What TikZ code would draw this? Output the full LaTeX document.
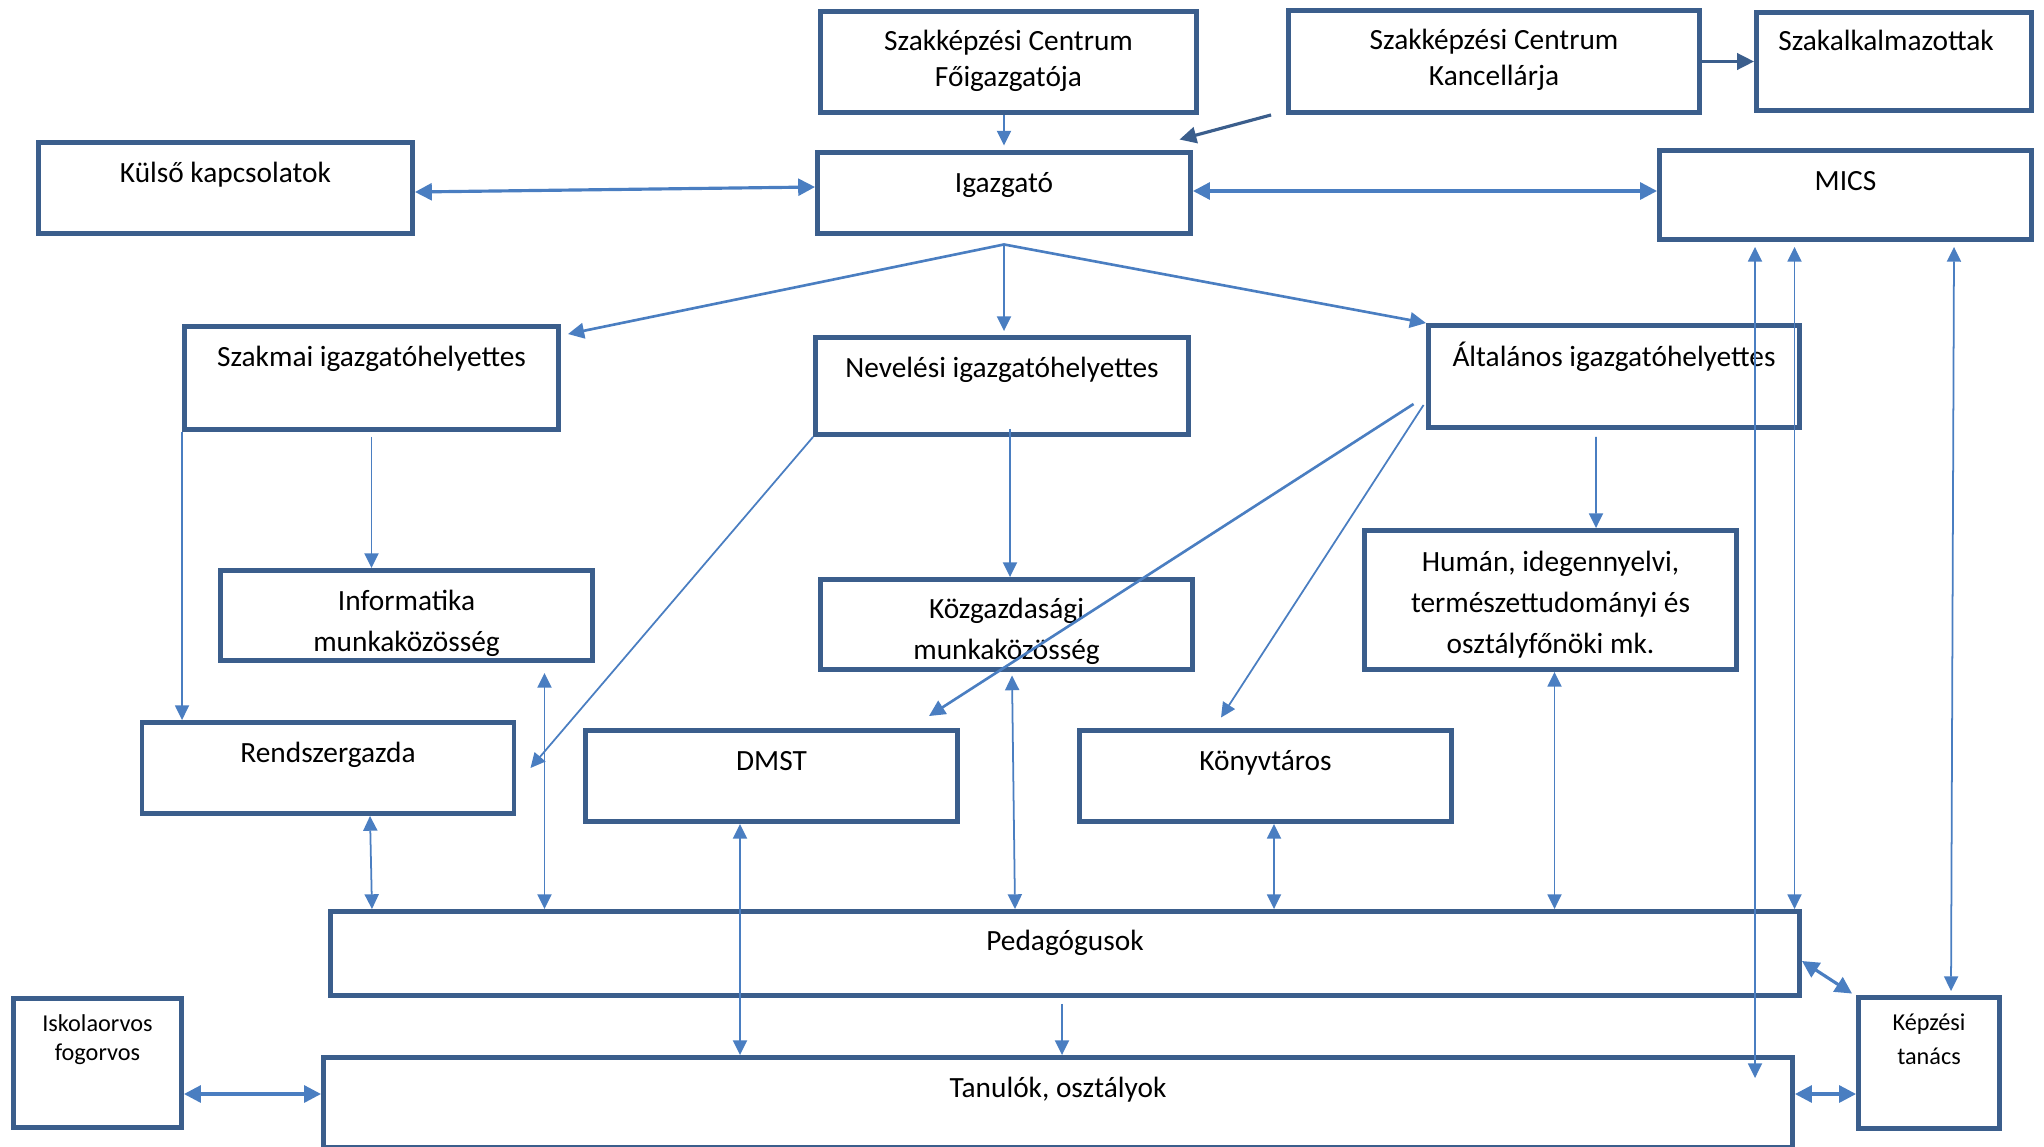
\documentclass[tikz,border=0pt]{standalone}
\usepackage{fontspec}
\setmainfont{Carlito}
\usetikzlibrary{arrows.meta}
\definecolor{boxblue}{RGB}{59,94,140}
\definecolor{lineblue}{RGB}{74,126,193}
\begin{document}
\begin{tikzpicture}[
    every node/.style={font=\fontsize{8.35}{11.6}\selectfont},
    box/.style={draw=boxblue, line width=1.4pt, minimum width=3.72cm, minimum height=0.9cm, inner sep=0pt},
    txt/.style={anchor=base, align=center, inner sep=0pt},
    tight/.style={font=\fontsize{8.35}{10}\selectfont},
    arr/.style={draw=lineblue, line width=0.5pt, >={Triangle[length=4.2pt, width=4pt]}},
    mid/.style={draw=lineblue, line width=0.75pt, >={Triangle[length=4.6pt, width=4.4pt]}},
    heavy/.style={draw=lineblue, line width=0.9pt, >={Triangle[length=4.8pt, width=4.8pt]}},
    darr/.style={draw=boxblue, line width=0.9pt, >={Triangle[length=4.8pt, width=4.6pt]}}
]
    \useasboundingbox (0,0) rectangle (20.44,-11.46);

    % boxes
    \node[box, minimum width=3.76cm, minimum height=1.01cm] (foig) at (10.085,-0.62) {};
    \node[box, minimum width=4.11cm, minimum height=1.02cm] (kanc) at (14.94,-0.615) {};
    \node[box, minimum width=2.75cm, minimum height=0.98cm] (szakalk) at (18.94,-0.615) {};
    \node[box, minimum width=3.74cm, minimum height=0.91cm] (kulso) at (2.255,-1.88) {};
    \node[box, minimum width=3.73cm, minimum height=0.81cm] (igazgato) at (10.04,-1.93) {};
    \node[box, minimum height=0.89cm] (mics) at (18.455,-1.95) {};
    \node[box, minimum width=3.74cm, minimum height=1.03cm] (szakmai) at (3.715,-3.78) {};
    \node[box, minimum width=3.73cm, minimum height=0.97cm] (neveles) at (10.02,-3.86) {};
    \node[box, minimum width=3.71cm, minimum height=1.02cm] (altalanos) at (16.14,-3.765) {};
    \node[box] (informatika) at (4.065,-6.155) {};
    \node[box] (kozgazd) at (10.065,-6.245) {};
    \node[box, minimum height=1.39cm] (human) at (15.505,-6.0) {};
    \node[box, minimum height=0.91cm] (rendsz) at (3.28,-7.68) {};
    \node[box, minimum height=0.91cm] (dmst) at (7.715,-7.76) {};
    \node[box, minimum height=0.91cm] (konyvtaros) at (12.655,-7.76) {};
    \node[box, minimum width=14.69cm, minimum height=0.84cm] (ped) at (10.65,-9.535) {};
    \node[box, minimum width=1.68cm, minimum height=1.29cm] (iskola) at (0.975,-10.63) {};
    \node[box, minimum width=1.41cm, minimum height=1.31cm] (kepzesi) at (19.29,-10.63) {};
    \node[box, minimum width=14.69cm] (tanulok) at (10.58,-11.025) {};

    % texts (base = last line)
    \node[txt, tight] (t-foig) at ([yshift=-0.77cm]foig.north) {Szakképzési Centrum\\Főigazgatója};
    \node[txt, tight] (t-kanc) at ([yshift=-0.77cm]kanc.north) {Szakképzési Centrum\\Kancellárja};
    \node[txt] (t-szakalk) at ([shift={(-0.08cm,-0.40cm)}]szakalk.north) {Szakalkalmazottak};
    \node[txt] (t-kulso) at ([yshift=-0.42cm]kulso.north) {Külső kapcsolatok};
    \node[txt] (t-igazgato) at ([yshift=-0.42cm]igazgato.north) {Igazgató};
    \node[txt] (t-mics) at ([yshift=-0.42cm]mics.north) {MICS};
    \node[txt] (t-szakmai) at ([yshift=-0.42cm]szakmai.north) {Szakmai igazgatóhelyettes};
    \node[txt] (t-neveles) at ([yshift=-0.42cm]neveles.north) {Nevelési igazgatóhelyettes};
    \node[txt] (t-altalanos) at ([yshift=-0.43cm]altalanos.north) {Általános igazgatóhelyettes};
    \node[txt] (t-informatika) at ([yshift=-0.83cm]informatika.north) {Informatika\\munkaközösség};
    \node[txt] (t-kozgazd) at ([yshift=-0.82cm]kozgazd.north) {Közgazdasági\\munkaközösség};
    \node[txt] (t-human) at ([yshift=-1.25cm]human.north) {Humán, idegennyelvi,\\természettudományi és\\osztályfőnöki mk.};
    \node[txt] (t-rendsz) at ([yshift=-0.42cm]rendsz.north) {Rendszergazda};
    \node[txt] (t-dmst) at ([yshift=-0.42cm]dmst.north) {DMST};
    \node[txt] (t-konyvtaros) at ([yshift=-0.42cm]konyvtaros.north) {Könyvtáros};
    \node[txt] (t-ped) at ([yshift=-0.41cm]ped.north) {Pedagógusok};
    \node[txt] (t-tanulok) at ([yshift=-0.42cm]tanulok.north) {Tanulók, osztályok};
    \node[txt, font=\fontsize{6.9}{8.2}\selectfont] (t-iskola) at ([yshift=-0.645cm]iskola.north) {Iskolaorvos\\fogorvos};
    \node[txt, font=\fontsize{6.9}{9.6}\selectfont] (t-kepzesi) at ([yshift=-0.69cm]kepzesi.north) {Képzési\\tanács};

    % connectors
    \coordinate (hub) at ([yshift=-0.085cm]igazgato.south);
    \draw[arr, ->] (foig.south -| hub) -- ([yshift=0.045cm]igazgato.north -| hub);
    \draw[darr, ->] ([xshift=-0.15cm]kanc.south west) -- ([shift={(-0.135cm,0.105cm)}]igazgato.north east);
    \draw[darr, ->] (kanc.east) -- (szakalk.west);
    \draw[heavy, <->] ([yshift=-0.04cm]kulso.east) -- ([yshift=0.06cm]igazgato.west);
    \draw[heavy, <->] ([yshift=0.02cm]igazgato.east) -- ([yshift=0.02cm]igazgato.east -| mics.west);
    \draw[mid, ->] (hub) -- ([shift={(0.07cm,-0.10cm)}]szakmai.north east);
    \draw[arr, ->] (hub) -- ([yshift=0.04cm]hub |- neveles.north);
    \draw[mid, ->] (hub) -- (altalanos.north west);

    \draw[arr, ->] (szakmai.south west) -- (szakmai.south west |- rendsz.north);
    \draw[arr, ->] ([yshift=-0.05cm]szakmai.south) -- (szakmai.south |- informatika.north);
    \draw[arr, ->] (neveles.south west) -- ([xshift=0.14cm]rendsz.east);
    \draw[arr, ->] ([shift={(0.08cm,0.08cm)}]neveles.south) -- ([xshift=0.08cm]neveles.south |- kozgazd.north);
    \draw[mid, ->] ([shift={(-0.125cm,-0.275cm)}]altalanos.west) -- ([shift={(-0.31cm,0.12cm)}]dmst.north east);
    \draw[arr, ->] ([shift={(-0.025cm,-0.285cm)}]altalanos.west) -- ([shift={(-0.445cm,0.105cm)}]konyvtaros.north);
    \draw[arr, ->] ([shift={(-0.18cm,-0.07cm)}]altalanos.south) -- ([xshift=0.455cm]human.north);

    \draw[arr, <->] ([shift={(1.38cm,-0.10cm)}]informatika.south) -- ([xshift=1.38cm]informatika.south |- ped.north);
    \draw[arr, <->] ([shift={(0.055cm,-0.035cm)}]kozgazd.south) -- ([xshift=0.085cm]kozgazd.south |- ped.north);
    \draw[arr, <->] ([xshift=0.04cm]human.south) -- ([xshift=0.04cm]human.south |- ped.north);
    \draw[arr, <->] ([xshift=0.42cm]rendsz.south) -- ([xshift=0.44cm]rendsz.south |- ped.north);
    \draw[arr, <->] ([xshift=0.085cm]konyvtaros.south) -- ([xshift=0.085cm]konyvtaros.south |- ped.north);
    \draw[arr, <->] ([xshift=-0.315cm]dmst.south) -- ([xshift=-0.315cm]dmst.south |- tanulok.north);
    \draw[arr, ->] ([shift={(-0.03cm,-0.06cm)}]ped.south) -- ([xshift=-0.03cm]ped.south |- tanulok.north);

    \draw[arr, <->] ([shift={(-0.51cm,-0.05cm)}]mics.south) -- ([xshift=-0.51cm]mics.south |- ped.north);
    \draw[arr, <->] ([shift={(-0.905cm,-0.05cm)}]mics.south) -- ([shift={(-0.905cm,-0.23cm)}]mics.south |- tanulok.north);
    \draw[arr, <->] ([shift={(1.085cm,-0.05cm)}]mics.south) -- ([shift={(0.22cm,0.04cm)}]kepzesi.north);
    \draw[heavy, <->] ([yshift=-0.075cm]ped.east) -- ([shift={(-0.04cm,0.015cm)}]kepzesi.north west);
    \draw[heavy, <->] ([yshift=-0.31cm]iskola.east) -- ([yshift=-0.31cm]iskola.east -| tanulok.west);
    \draw[heavy, <->] ([yshift=-0.31cm]kepzesi.west -| tanulok.east) -- ([yshift=-0.31cm]kepzesi.west);
\end{tikzpicture}
\end{document}
